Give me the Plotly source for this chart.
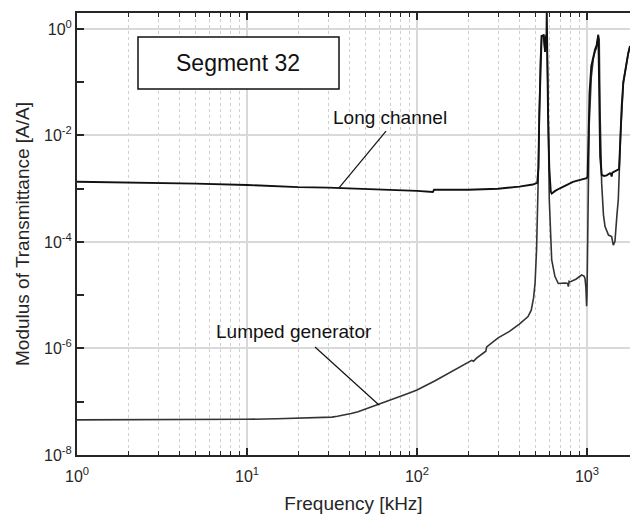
import plotly.graph_objects as go

# ---- data ----
freq_long = [1, 2, 3, 5, 10, 20, 30, 50, 100, 124, 126, 200, 300, 400, 480, 510,
             518, 524, 532, 541, 556, 562, 567, 572, 578, 580, 583, 590, 600, 612,
             620, 650, 693, 760, 827, 900, 995, 1008, 1018, 1035, 1060, 1090, 1115,
             1140, 1165, 1172, 1180, 1195, 1220, 1260, 1306, 1366, 1385, 1397, 1410,
             1450, 1496, 1543, 1560, 1578, 1600, 1636, 1700, 1750, 1790]
tm_long = [1.355e-3, 1.324e-3, 1.30e-3, 1.245e-3, 1.175e-3, 1.07e-3, 1.047e-3, 1.0e-3,
           9.12e-4, 8.71e-4, 9.55e-4, 9.55e-4, 1.0e-3, 1.096e-3, 1.20e-3, 1.29e-3,
           2.5e-3, 2.5e-2, 0.25, 0.74, 0.76, 0.5, 0.37, 0.71, 0.79, 2.2, 0.32, 2.5e-2,
           2.5e-3, 8.9e-4, 8.1e-4, 9.1e-4, 1.02e-3, 1.17e-3, 1.35e-3, 1.45e-3, 1.58e-3,
           1.7e-3, 1.0e-2, 6.3e-2, 0.2, 0.32, 0.41, 0.5, 0.78, 0.30, 3.2e-2, 4.0e-3,
           1.82e-3, 1.74e-3, 1.78e-3, 1.95e-3, 1.86e-3, 1.70e-3, 2.0e-3, 2.09e-3,
           2.24e-3, 2.34e-3, 5.0e-3, 1.26e-2, 3.5e-2, 0.1, 0.22, 0.355, 0.48]

freq_lump = [1, 2, 5, 10, 15, 20, 27, 31.6, 34, 37, 41, 45, 52, 58, 70, 80, 91, 100, 127,
             179, 210, 215, 224, 254, 257, 300, 350, 400, 450, 470, 485, 495, 505, 515,
             525, 532, 541, 556, 562, 567, 572, 580, 588, 600, 620, 648, 678, 742, 770,
             777, 785, 794, 860, 930, 960, 973, 985, 995, 1000, 1006, 1014, 1030, 1060,
             1090, 1115, 1140, 1165, 1180, 1192, 1220, 1250, 1277, 1338, 1397, 1428,
             1442, 1460, 1500, 1528, 1578, 1636, 1750, 1790]
tm_lump = [4.57e-8, 4.57e-8, 4.62e-8, 4.68e-8, 4.79e-8, 4.9e-8, 5.0e-8, 5.15e-8, 5.35e-8,
           5.6e-8, 6.0e-8, 6.46e-8, 7.59e-8, 8.7e-8, 1.07e-7, 1.27e-7, 1.48e-7, 1.66e-7,
           2.45e-7, 4.57e-7, 6.0e-7, 5.75e-7, 6.6e-7, 8.9e-7, 1.07e-6, 1.58e-6, 2.09e-6,
           2.88e-6, 3.98e-6, 5.25e-6, 8.9e-6, 1.7e-5, 7.1e-5, 1.0e-3, 2.5e-2, 0.25, 0.74,
           0.76, 0.5, 0.37, 0.71, 0.76, 0.1, 6.3e-4, 4.6e-5, 2.24e-5, 1.66e-5, 1.7e-5,
           1.66e-5, 1.45e-5, 1.82e-5, 1.78e-5, 2.0e-5, 2.4e-5, 2.29e-5, 2.09e-5, 1.41e-5,
           6.2e-6, 1.0e-5, 6.3e-5, 1.0e-3, 1.58e-2, 0.126, 0.28, 0.38, 0.45, 0.74, 0.63,
           3.2e-2, 1.26e-3, 3.2e-4, 1.95e-4, 1.35e-4, 1.26e-4, 8.7e-5, 9.5e-5, 1.02e-4,
           3.2e-4, 6.2e-4, 1.12e-2, 9.8e-2, 0.355, 0.46]

x_tickvals = [1, 10, 100, 1000]
x_ticktext = ["10<sup>0</sup>", "10<sup>1</sup>", "10<sup>2</sup>", "10<sup>3</sup>"]
x_minorvals = [2, 3, 4, 5, 6, 7, 8, 9, 20, 30, 40, 50, 60, 70, 80, 90,
               200, 300, 400, 500, 600, 700, 800, 900]
y_tickvals = [1e-8, 1e-6, 1e-4, 1e-2, 1]
y_ticktext = ["10<sup>-8</sup>", "10<sup>-6</sup>", "10<sup>-4</sup>", "10<sup>-2</sup>", "10<sup>0</sup>"]
y_minorvals = [1e-7, 1e-5, 1e-3, 1e-1]

FONT = "Liberation Sans, Arial, Helvetica, sans-serif"
AX = "#262626"

fig = go.Figure()
fig.add_trace(go.Scatter(x=freq_lump, y=tm_lump, mode="lines",
                         line=dict(color="#333333", width=1.6), showlegend=False))
fig.add_trace(go.Scatter(x=freq_long, y=tm_long, mode="lines",
                         line=dict(color="#111111", width=1.9), showlegend=False))

fig.update_layout(
    width=630, height=515,
    margin=dict(l=77, r=0, t=13, b=60),
    paper_bgcolor="white", plot_bgcolor="white",
    font=dict(family=FONT, color=AX),
    xaxis=dict(
        type="log", range=[0, 3.253],
        tickmode="array", tickvals=x_tickvals, ticktext=x_ticktext,
        ticks="inside", ticklen=7, tickwidth=1.5, tickcolor=AX,
        ticklabelstandoff=6,
        showline=True, linecolor=AX, linewidth=2, mirror="ticks",
        showgrid=True, gridcolor="#d9d9d9", gridwidth=1.5, zeroline=False,
        tickfont=dict(size=16, family=FONT, color=AX),
        minor=dict(tickmode="array", tickvals=x_minorvals, ticks="inside", ticklen=4,
                   tickwidth=1, tickcolor=AX, showgrid=True, griddash="dot",
                   gridcolor="#cfcfcf", gridwidth=1),
        title=dict(text="Frequency [kHz]", font=dict(size=19, family=FONT, color=AX), standoff=12),
    ),
    yaxis=dict(
        type="log", range=[-8, 0.30],
        tickmode="array", tickvals=y_tickvals, ticktext=y_ticktext,
        ticks="inside", ticklen=7, tickwidth=1.5, tickcolor=AX,
        showline=True, linecolor=AX, linewidth=2, mirror=False,
        showgrid=True, gridcolor="#d9d9d9", gridwidth=1.5, zeroline=False,
        tickfont=dict(size=16, family=FONT, color=AX),
        minor=dict(tickmode="array", tickvals=y_minorvals, ticks="inside", ticklen=7,
                   tickwidth=1.5, tickcolor=AX, showgrid=False),
        title=dict(text="Modulus of Transmittance [A/A]", font=dict(size=19, family=FONT, color=AX), standoff=9),
    ),
)

# Label box "Segment 32"
fig.add_shape(type="rect", xref="paper", yref="paper", x0=0.1103, x1=0.4738, y0=0.828, y1=0.9457,
              line=dict(color="#111111", width=1.5), fillcolor="white", layer="above")
fig.add_annotation(xref="paper", yref="paper", x=0.292, y=0.8869, text="Segment 32",
                   xanchor="center", yanchor="middle",
                   showarrow=False, font=dict(size=23, family=FONT, color="#111111"))

# Curve labels with leader lines
fig.add_shape(type="line", xref="paper", yref="paper", x0=0.5588, y0=0.7330, x1=0.4738, y1=0.6041,
              line=dict(color="#111111", width=1.2))
fig.add_annotation(xref="paper", yref="paper", x=0.566, y=0.7647, text="Long channel",
                   xanchor="center", yanchor="middle",
                   showarrow=False, font=dict(size=19, family=FONT, color="#111111"))
fig.add_shape(type="line", xref="paper", yref="paper", x0=0.4304, y0=0.2443, x1=0.5461, y1=0.1131,
              line=dict(color="#111111", width=1.2))
fig.add_annotation(xref="paper", yref="paper", x=0.3924, y=0.2783, text="Lumped generator",
                   xanchor="center", yanchor="middle",
                   showarrow=False, font=dict(size=19, family=FONT, color="#111111"))

fig.write_html("out.html")
